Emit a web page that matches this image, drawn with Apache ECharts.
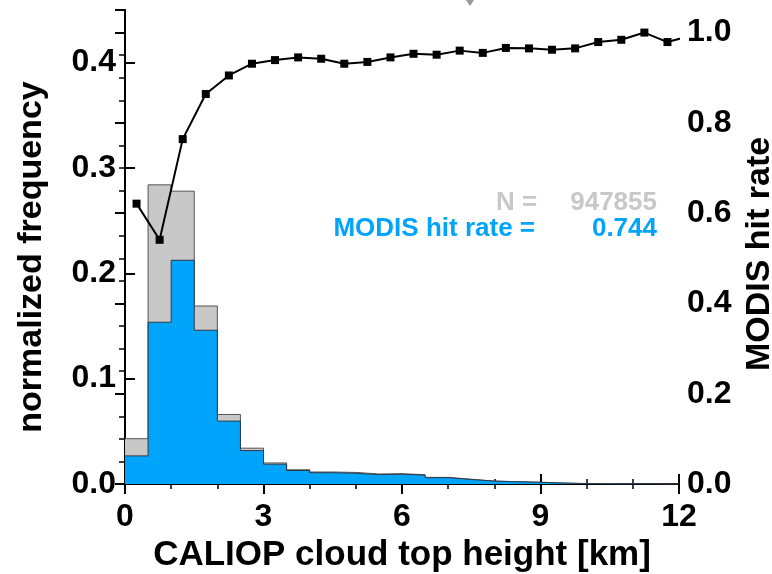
<!DOCTYPE html>
<html>
<head>
<meta charset="utf-8">
<title>CALIOP cloud top height</title>
<script src="https://cdn.jsdelivr.net/npm/echarts@6/dist/echarts.min.js"></script>
<style>
    html, body { margin: 0; padding: 0; background: #fff; }
    #chart { width: 772px; height: 574px; }
</style>
</head>
<body>
<div id="chart"></div>
<script>
// bin edges of the histograms [km]
var binEdges = [0, 0.5, 1, 1.5, 2, 2.5, 3, 3.5, 4, 4.5, 5, 5.5, 6,
    6.5, 7, 7.5, 8, 8.5, 9, 9.5, 10, 10.5, 11, 11.5, 12];
// normalized frequency of all CALIOP clouds (grey)
var allFreq = [0.043, 0.284, 0.278, 0.169, 0.066, 0.034, 0.020, 0.0135,
    0.0114, 0.0110, 0.0095, 0.0098, 0.0088, 0.0063, 0.0045, 0.0028,
    0.0022, 0.0017, 0.0009, 0.0004, 0.0002, 0.0001, 0.0001, 0.0000];
// normalized frequency of clouds also seen by MODIS (blue)
var hitFreq = [0.0267, 0.1536, 0.2124, 0.146, 0.0597, 0.0317, 0.0188, 0.0128,
    0.0107, 0.0102, 0.0089, 0.0093, 0.0084, 0.0060, 0.0043, 0.0027,
    0.0021, 0.0016, 0.0009, 0.0004, 0.0002, 0.0001, 0.0001, 0.0000];
// MODIS hit rate at the bin centres (last point lies outside the axis)
var rateX = [0.25, 0.75, 1.25, 1.75, 2.25, 2.75, 3.25, 3.75, 4.25, 4.75,
    5.25, 5.75, 6.25, 6.75, 7.25, 7.75, 8.25, 8.75, 9.25, 9.75,
    10.25, 10.75, 11.25, 11.75, 12.25];
var hitRate = [0.621, 0.541, 0.764, 0.864, 0.905, 0.931, 0.939, 0.945, 0.942, 0.931,
    0.935, 0.945, 0.953, 0.951, 0.960, 0.955, 0.966, 0.965, 0.962, 0.965,
    0.979, 0.984, 1.000, 0.979, 0.993];

var nText = 'N =';
var nValue = '947855';
var rateText = 'MODIS hit rate =';
var rateValue = '0.744';

var FONT = 'Liberation Sans, Arial, Helvetica, sans-serif';
var GREY = '#c8c8c8';
var BLUE = '#00a5fb';

// step points: each bin value at its left edge, last value repeated at the right edge
function stepData(vals) {
    var out = [];
    for (var i = 0; i < vals.length; i++) {
        out.push([binEdges[i], vals[i]]);
    }
    out.push([binEdges[vals.length], vals[vals.length - 1]]);
    return out;
}

var rateData = rateX.map(function (x, i) { return [x, hitRate[i]]; });

var chart = echarts.init(document.getElementById('chart'));

var labelFont = { fontFamily: FONT, fontWeight: 'bold', fontSize: 32, color: '#000' };

var xCommon = {
    type: 'value',
    min: 0,
    max: 12,
    interval: 3,
    axisLine: { show: true, lineStyle: { color: '#000', width: 2 } },
    axisTick: { show: true, inside: true, length: 10, lineStyle: { color: '#000', width: 2 } },
    minorTick: { show: true, splitNumber: 3, length: 5, lineStyle: { color: '#000', width: 1.5 } },
    splitLine: { show: false }
};

var option = {
    animation: false,
    grid: { left: 125, right: 93, top: 10, bottom: 90, containLabel: false, outerBoundsMode: 'none' },
    xAxis: [
        Object.assign({}, xCommon, {
            position: 'bottom',
            name: 'CALIOP cloud top height [km]',
            nameLocation: 'middle',
            nameGap: 54,
            nameTextStyle: { fontFamily: FONT, fontWeight: 'bold', fontSize: 35, color: '#000' },
            axisLabel: Object.assign({ margin: 17 }, labelFont)
        }),
        Object.assign({}, xCommon, {
            position: 'top',
            axisLabel: { show: false }
        })
    ],
    yAxis: [
        {
            type: 'value',
            position: 'left',
            min: 0,
            max: 0.45,
            interval: 0.1,
            name: 'normalized frequency',
            nameLocation: 'middle',
            nameRotate: 90,
            nameGap: 76,
            nameTextStyle: { fontFamily: FONT, fontWeight: 'bold', fontSize: 34, color: '#000', padding: [0, 20, 0, 0] },
            axisLine: { show: true, lineStyle: { color: '#000', width: 2 } },
            axisTick: { show: true, inside: true, length: 10, lineStyle: { color: '#000', width: 2 } },
            axisLabel: Object.assign({
                margin: 9, showMaxLabel: false,
                formatter: function (v) { return v.toFixed(1); }
            }, labelFont),
            splitLine: { show: false }
        },
        {
            type: 'value',
            position: 'right',
            min: 0,
            max: 1.05,
            interval: 0.2,
            name: 'MODIS hit rate',
            nameLocation: 'middle',
            nameRotate: 90,
            nameGap: 62,
            nameTextStyle: { fontFamily: FONT, fontWeight: 'bold', fontSize: 34, color: '#000', padding: [0, 14, 0, 0] },
            axisLine: { show: true, lineStyle: { color: '#000', width: 2 } },
            axisTick: { show: true, inside: true, length: 10, lineStyle: { color: '#000', width: 2 } },
            minorTick: { show: true, splitNumber: 4, length: 6, lineStyle: { color: '#000', width: 1.5 } },
            axisLabel: Object.assign({
                margin: 8, showMaxLabel: false,
                formatter: function (v) { return v.toFixed(1); }
            }, labelFont),
            splitLine: { show: false }
        }
    ],
    series: [
        {
            name: 'all',
            type: 'line',
            step: 'end',
            xAxisIndex: 0,
            yAxisIndex: 0,
            data: stepData(allFreq),
            symbol: 'none',
            lineStyle: { color: '#555', width: 1 },
            areaStyle: { color: GREY, opacity: 1 },
            z: 1
        },
        {
            name: 'hit',
            type: 'line',
            step: 'end',
            xAxisIndex: 0,
            yAxisIndex: 0,
            data: stepData(hitFreq),
            symbol: 'none',
            lineStyle: { color: '#2a3a4a', width: 1 },
            areaStyle: { color: BLUE, opacity: 1 },
            z: 2
        },
        {
            name: 'hit rate',
            type: 'line',
            xAxisIndex: 0,
            yAxisIndex: 1,
            data: rateData,
            clip: true,
            symbol: 'rect',
            symbolSize: 8,
            itemStyle: { color: '#000' },
            lineStyle: { color: '#000', width: 2 },
            z: 5
        }
    ],
    graphic: [
        {
            type: 'polygon',
            shape: { points: [[466, 0], [474, 0], [470, 6]] },
            style: { fill: '#999' }
        },
        {
            type: 'text', left: 496, top: 190,
            style: { text: nText, fill: GREY, font: 'bold 26px ' + FONT }
        },
        {
            type: 'text', right: 772 - 657, top: 190,
            style: { text: nValue, fill: GREY, font: 'bold 26px ' + FONT }
        },
        {
            type: 'text', right: 772 - 535, top: 216,
            style: { text: rateText, fill: BLUE, font: 'bold 26px ' + FONT }
        },
        {
            type: 'text', right: 772 - 657, top: 216,
            style: { text: rateValue, fill: BLUE, font: 'bold 26px ' + FONT }
        }
    ]
};

chart.setOption(option);
</script>
</body>
</html>
